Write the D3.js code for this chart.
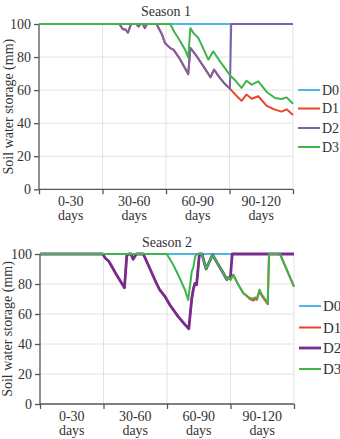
<!DOCTYPE html>
<html><head><meta charset="utf-8">
<script src="https://cdn.jsdelivr.net/npm/d3@7"></script>
<style>body{margin:0;background:#fff}svg{display:block}svg text{font-family:"Liberation Serif","DejaVu Serif",serif !important;fill:#333}</style>
</head><body><svg id="c" width="340" height="439"></svg>
<script>
const categories = ["0-30", "30-60", "60-90", "90-120"];
const categoryBreaks = [0, 30, 60, 90, 120];
const yTicks = [0, 20, 40, 60, 80, 100];
const seriesNames = ["D0", "D1", "D2", "D3"];
const titles = ["Season 1", "Season 2"];
const yLabel = "Soil water storage (mm)";

// Season 1: [day, storage mm]
const s1D0 = [[0,100],[120,100]];
const s1D1 = [[0,100],[38,100],[39.5,97],[41,96.5],[42,94.7],[43.5,100],[46,100],[47,98.5],[48,100],[49,100],[50,97.5],[51,100],[55.5,100],[58,94],[59.5,88.5],[62,85.4],[63.5,84.5],[66,80],[68,75.5],[70.5,69.7],[71.5,85.5],[74.5,80.5],[78.4,73],[81,67.8],[82.7,72.4],[85.5,67.3],[88,63.5],[90.2,60.9],[93,57],[95.7,53.5],[98,57.3],[100.5,54.8],[103.6,56.3],[107.6,50.5],[111.5,48.2],[114.6,47],[117,48.4],[120,45]];
const s1D2 = [[0,100],[38,100],[39.5,97],[41,96.5],[42,94.7],[43.5,100],[46,100],[47,98.5],[48,100],[49,100],[50,97.5],[51,100],[55.5,100],[58,94],[59.5,88.5],[62,85.4],[63.5,84.5],[66,80],[68,75.5],[70.5,69.7],[71.5,85.5],[74.5,80.5],[78.4,73],[81,67.8],[82.7,72.4],[85.5,67.3],[88,63.5],[90.2,60.9],[90.8,100],[120,100]];
const s1D3 = [[0,100],[62,100],[64,95],[65.8,91.5],[69,84.5],[70.5,79.8],[71.5,97.5],[73,94.5],[75.3,91.5],[78,84],[80,78.4],[82.3,83.5],[85.5,77.4],[88,73],[90.2,69],[93,65.5],[95.7,61.3],[98,65.7],[100.5,63.3],[103.6,65.3],[107.6,58.9],[111.5,55.2],[114.6,54.6],[117,55.6],[120,51.8]];

// Season 2: [day, storage mm]
const s2D0 = [[0,100],[120,100]];
const s2D1 = [[0,100],[29.6,100],[31,97],[32.6,95],[36,86.5],[39.9,77.5],[41,99],[42,100],[43,100],[44,96.5],[45.5,100],[48.8,100],[52,90],[55,80.5],[56.5,76.2],[59,71.8],[61.3,66.2],[65.2,58.4],[68.5,52.9],[70.3,50.2],[71.7,70.4],[72.5,77],[73.2,80.4],[74,79.5],[75.3,100],[76.5,100],[78.5,90],[81.5,99.5],[84.3,92.7],[86.5,87.5],[88.2,83],[89.2,84.5],[90,82.9],[91.3,86.2],[93.5,80],[96,74],[99.2,70],[100.8,69],[101.5,70],[102.5,69.5],[103.7,75.5],[104.8,72],[107.6,66.5],[108.2,100],[113.4,100],[120,78.3]];
const s2D2 = [[0,100],[29.6,100],[31,97],[32.6,95],[36,86.5],[39.9,77.5],[41,99],[42,100],[43,100],[44,96.5],[45.5,100],[48.8,100],[52,90],[55,80.5],[56.5,76.2],[59,71.8],[61.3,66.2],[65.2,58.4],[68.5,52.9],[70.3,50.2],[71.7,70.4],[72.5,77],[73.2,80.4],[74,79.5],[75.3,100],[76.5,100],[78.5,90],[81.5,99.5],[84.3,92.7],[86.5,87.5],[88.2,83],[89.2,84.5],[90,85],[90.8,100],[120,100]];
const s2D3 = [[0,100],[59.9,100],[63,92.7],[66,84],[68.5,76],[70,69.3],[71.7,88.2],[72.5,91.5],[73.3,98.2],[74,100],[76.5,100],[78.5,90],[81.5,99.5],[84.3,92.7],[86.5,87.5],[88.2,83],[89.2,84.5],[90,82.9],[91.3,86.2],[93.5,80],[96,74],[99.2,70.7],[100.8,70.2],[101.5,71],[102.5,70.5],[103.7,76.2],[104.8,72.9],[107.6,67.5],[108.2,100],[113.4,100],[120,78.3]];

const svg = d3.select("#c");
const font = "Liberation Serif";

function panel(cfg) {
  const g = svg.append("g");
  const x = d3.scaleLinear().domain([0,120]).range([cfg.left, cfg.right]);
  const band = d3.scaleBand().domain(categories).range([cfg.left, cfg.right]);
  const y = d3.scaleLinear().domain([0,100]).range([cfg.bottom, cfg.top]);

  // grid
  g.append("g").selectAll("line").data(yTicks.filter(d=>d>0)).join("line")
    .attr("x1", cfg.left).attr("x2", cfg.right).attr("y1", d=>y(d)).attr("y2", d=>y(d))
    .attr("stroke", "#e2e2e2").attr("stroke-width", 1);
  g.append("g").selectAll("line").data(categoryBreaks.slice(1)).join("line")
    .attr("x1", d=>x(d)).attr("x2", d=>x(d)).attr("y1", cfg.top).attr("y2", cfg.bottom)
    .attr("stroke", "#e2e2e2").attr("stroke-width", 1);

  // axes
  const ya = g.append("g").attr("transform", `translate(${cfg.left},0)`)
    .call(d3.axisLeft(y).tickValues(yTicks).tickSize(5).tickPadding(3));
  const xa = g.append("g").attr("transform", `translate(0,${cfg.bottom})`)
    .call(d3.axisBottom(x).tickValues(categoryBreaks).tickSize(5).tickFormat(""));
  [ya, xa].forEach(a => {
    a.attr("font-family", font).attr("font-size", 14);
    a.select(".domain").attr("stroke", "#555").attr("stroke-width", 1.3);
    a.selectAll(".tick line").attr("stroke", "#555").attr("stroke-width", 1.3);
  });
  ya.select(".domain").remove();
  g.append("line").attr("x1", cfg.left).attr("x2", cfg.left).attr("y1", y(100)).attr("y2", y(0))
    .attr("stroke", "#555").attr("stroke-width", 1.3);
  xa.select(".domain").attr("d", `M${cfg.left},0H${cfg.right}`);

  // category labels
  const cl = g.append("g").attr("font-family", font).attr("font-size", 14);
  categories.forEach(c => {
    const cx = band(c) + band.bandwidth()/2;
    const t = cl.append("text").attr("text-anchor", "middle");
    t.append("tspan").attr("x", cx).attr("y", cfg.bottom + 17).text(c);
    t.append("tspan").attr("x", cx).attr("y", cfg.bottom + 31).text("days");
  });

  // title
  g.append("text").attr("x", (cfg.left + cfg.right)/2).attr("y", cfg.titleY)
    .attr("text-anchor", "middle").attr("font-family", font).attr("font-size", 14)
    .text(cfg.title);

  // y label
  g.append("text").attr("transform", `translate(${cfg.yLabelX},${(cfg.top+cfg.bottom)/2}) rotate(-90)`)
    .attr("text-anchor", "middle").attr("font-family", font).attr("font-size", 14)
    .text(yLabel);

  // lines
  const line = d3.line().x(d=>x(d[0])).y(d=>y(d[1]));
  cfg.series.forEach((s, i) => {
    g.append("path").datum(s).attr("d", line).attr("fill", "none")
      .attr("stroke", cfg.colors[i]).attr("stroke-width", cfg.widths[i])
      .attr("stroke-linejoin", "round");
  });

  // legend
  seriesNames.forEach((n, i) => {
    const ly = cfg.legendY[i];
    g.append("line").attr("x1", cfg.right + 5).attr("x2", cfg.right + 27).attr("y1", ly).attr("y2", ly)
      .attr("stroke", cfg.colors[i]).attr("stroke-width", cfg.widths[i]);
    g.append("text").attr("x", cfg.right + 29).attr("y", ly).attr("dy", "0.35em")
      .attr("font-family", font).attr("font-size", cfg.legendSize).text(n);
  });
}

panel({
  left: 39, right: 293, top: 24, bottom: 189.3, titleY: 16, title: titles[0], yLabelX: 13,
  series: [s1D0, s1D1, s1D2, s1D3],
  colors: ["#4cb8e6", "#e8452c", "#7a62a8", "#3db54a"],
  widths: [2, 2, 2, 2],
  legendY: [90, 108.5, 128, 147], legendSize: 14
});
panel({
  left: 40, right: 294, top: 254, bottom: 404, titleY: 247, title: titles[1], yLabelX: 12,
  series: [s2D0, s2D1, s2D2, s2D3],
  colors: ["#4cb8e6", "#e8452c", "#782c8e", "#3db54a"],
  widths: [2, 2, 2.8, 2],
  legendY: [306, 327.5, 348, 369], legendSize: 15
});
</script>
</body></html>
